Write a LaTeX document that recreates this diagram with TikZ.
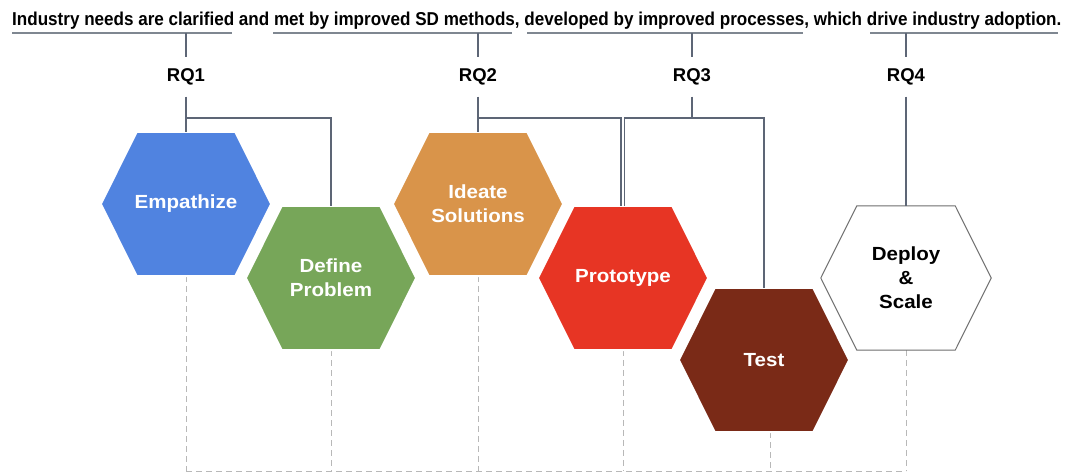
\documentclass[tikz,border=0pt]{standalone}
\usepackage{fontspec}
\setmainfont{Liberation Sans}
\newfontfamily\hexfont[FakeStretch=1.08]{Liberation Sans}
\usetikzlibrary{calc,backgrounds}
\definecolor{empc}{HTML}{5083E0}
\definecolor{defc}{HTML}{77A659}
\definecolor{idec}{HTML}{D9944A}
\definecolor{proc}{HTML}{E73524}
\definecolor{tstc}{HTML}{7A2A17}
\definecolor{connc}{HTML}{5D6676}
\definecolor{ulc}{HTML}{7F8791}
\definecolor{dashc}{HTML}{B8B8B8}
\definecolor{depc}{HTML}{6E6E6E}
\newcommand\hexshape[2]{%
  \path[#2] (#1.west) -- ($(#1.north west)+(36,0)$) -- ($(#1.north east)+(-36,0)$)
    -- (#1.east) -- ($(#1.south east)+(-36,0)$) -- ($(#1.south west)+(36,0)$) -- cycle;}
\begin{document}
\begin{tikzpicture}[x=1pt,y=-1pt,
  hexnode/.style={minimum width=170pt,minimum height=144pt,inner sep=0pt,align=center,
    text=white,font=\hexfont\fontsize{19}{24}\selectfont\bfseries},
  rqnode/.style={minimum height=39pt,inner sep=0pt,font=\fontsize{18.5}{22}\selectfont\bfseries},
  conn/.style={draw=connc,line width=1.5pt},
  uline/.style={draw=ulc,line width=2pt},
  dashline/.style={draw=dashc,line width=1pt,dash pattern=on 6pt off 4pt},
  hexfill/.style={fill=#1,draw=white,line width=2pt}]
\useasboundingbox (0,0) rectangle (1065,473);

% title
\node[anchor=base west,inner sep=0pt] (title) at (12,26)
  {\resizebox{1049pt}{13.5pt}{\bfseries Industry needs are clarified and met by improved SD methods, developed by improved processes, which drive industry adoption.}};
\coordinate (u1a) at (12,33);  \coordinate (u1b) at (232,33);
\coordinate (u2a) at (273,33); \coordinate (u2b) at (512,33);
\coordinate (u3a) at (527,33); \coordinate (u3b) at (803,33);
\coordinate (u4a) at (870,33); \coordinate (u4b) at (1058,33);
\draw[uline] (u1a) -- (u1b);
\draw[uline] (u2a) -- (u2b);
\draw[uline] (u3a) -- (u3b);
\draw[uline] (u4a) -- (u4b);
\coordinate (t1) at (186,33);
\coordinate (t2) at (478,33);
\coordinate (t3) at (692,33);
\coordinate (t4) at (906,33);
\coordinate (h) at (0,118);
\coordinate (b) at (0,471);

% RQ labels
\node[rqnode] (rq1) at (186,77) {RQ1};
\node[rqnode] (rq2) at (478,77) {RQ2};
\node[rqnode] (rq3) at (692,77) {RQ3};
\node[rqnode] (rq4) at (906,77) {RQ4};

% hexagon nodes
\node[hexnode] (emp) at (186,204) {Empathize};
\node[hexnode] (def) at (331,278) {Define\\Problem};
\node[hexnode] (ide) at (478,204) {Ideate\\Solutions};
\node[hexnode] (pro) at (623,278) {Prototype};
\node[hexnode] (tst) at (764,360) {Test};
\node[hexnode,text=black] (dep) at (906,278) {Deploy\\\&\\Scale};

\begin{pgfonlayer}{background}
  \fill[white] (0,0) rectangle (1065,473);
  % dashed guides
  \draw[dashline] (emp.south) -- (emp.south |- b);
  \draw[dashline] (def.south) -- (def.south |- b);
  \draw[dashline] (ide.south) -- (ide.south |- b);
  \draw[dashline] (pro.south) -- (pro.south |- b);
  \draw[dashline] ($(tst.south)+(6,0)$) -- ($(tst.south |- b)+(6,0)$);
  \draw[dashline] (dep.south) -- (dep.south |- b);
  \draw[dashline] (emp.south |- b) -- (dep.south |- b);
  % hexagons
  \hexshape{emp}{hexfill=empc}
  \hexshape{def}{hexfill=defc}
  \hexshape{ide}{hexfill=idec}
  \hexshape{pro}{hexfill=proc}
  \hexshape{tst}{hexfill=tstc}
  \hexshape{dep}{fill=white,draw=depc,line width=1pt}
\end{pgfonlayer}

% connectors
\draw[conn] (t1) -- (rq1.north);
\draw[conn] (t2) -- (rq2.north);
\draw[conn] (t3) -- (rq3.north);
\draw[conn] (t4) -- (rq4.north);
\draw[conn] (rq1.south) -- (emp.north);
\draw[conn] (rq1.south |- h) -| (def.north);
\draw[conn] (rq2.south) -- (ide.north);
\draw[conn] (rq2.south |- h) -| ($(pro.north)+(-2,0)$);
\draw[conn] (rq3.south) -- (rq3.south |- h);
\draw[conn] ($(pro.north)+(1.5,0)$) |- (tst.north |- h) -- (tst.north);
\draw[conn] (rq4.south) -- (dep.north);
\end{tikzpicture}
\end{document}
